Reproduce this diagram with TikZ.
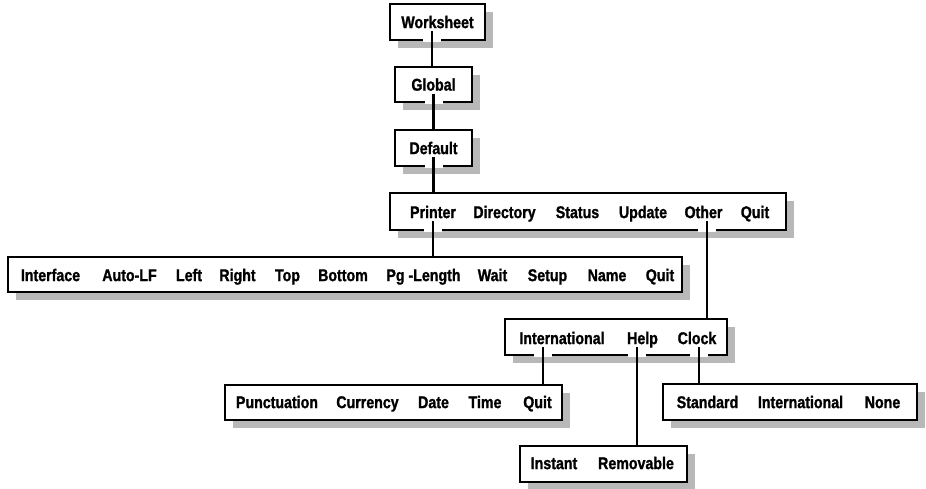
\documentclass[tikz,border=0pt]{standalone}
\usepackage{fontspec}
\setmainfont{Liberation Sans}[FakeStretch=0.835, BoldFeatures={FakeBold=1.2}]
\usepackage{tikz}
\usetikzlibrary{shadows}
\tikzset{
  font={\fontsize{17pt}{19pt}\selectfont\bfseries}}
\tikzset{
  menu/.style={draw, line width=1.9pt, fill=white, inner sep=0pt,
    drop shadow={shadow xshift=8pt, shadow yshift=-8pt, fill=black!28, opacity=1}},
  word/.style={inner sep=0pt, text height=12.2pt, text depth=0pt},
  link/.style={line width=2.2pt},
  gap/.style={white, line width=18pt}}
\newcommand{\menulink}[4]{%
  \draw[gap] ([xshift=#1, yshift=-3pt]#2.base) coordinate (from) -- (from |- #3.south) -- ++(0,1.2);
  \draw[link] (from) -- (from |- #4.north);}

\begin{document}
\begin{tikzpicture}[x=1pt, y=-1pt]
\useasboundingbox (0,0) rectangle (926,489);
\node[menu, word, minimum width=95pt, minimum height=36pt] (worksheet) at (437.5,22) {Worksheet};
\node[menu, word, minimum width=77pt, minimum height=35pt] (global) at (433.5,84.5) {Global};
\node[menu, word, minimum width=77pt, minimum height=36pt] (default) at (433.5,148) {Default};
\node[menu, minimum width=396pt, minimum height=37pt] (mainbar) at (588,211.5) {};
\node[menu, minimum width=674pt, minimum height=35pt] (printerbar) at (345,274.5) {};
\node[menu, minimum width=222pt, minimum height=36pt] (otherbar) at (616,337) {};
\node[menu, minimum width=337pt, minimum height=35pt] (intlbar) at (393.5,402.5) {};
\node[menu, minimum width=254pt, minimum height=36pt] (clockbar) at (790,402) {};
\node[menu, minimum width=167pt, minimum height=36pt] (helpbar) at (603.5,464) {};
\node[word] (printer) at (433,212) {Printer};
\node[word] (directory) at (504.5,212) {Directory};
\node[word] (status) at (577.5,212) {Status};
\node[word] (update) at (643,212) {Update};
\node[word] (other) at (703.5,212) {Other};
\node[word] (mainquit) at (755,212) {Quit};
\node[word] (interface) at (50.5,275) {Interface};
\node[word] (autolf) at (129.5,275) {Auto-LF};
\node[word] (lft) at (189,275) {Left};
\node[word] (rgt) at (237.5,275) {Right};
\node[word] (tp) at (287.5,275) {Top};
\node[word] (btm) at (343,275) {Bottom};
\node[word] (pglength) at (423.5,275) {Pg -Length};
\node[word] (wait) at (492.5,275) {Wait};
\node[word] (setup) at (547.5,275) {Setup};
\node[word] (name) at (607,275) {Name};
\node[word] (printerquit) at (660,275) {Quit};
\node[word] (intl) at (562,338) {International};
\node[word] (help) at (642.5,338) {Help};
\node[word] (clock) at (697,338) {Clock};
\node[word] (punct) at (277,402) {Punctuation};
\node[word] (currency) at (367.5,402) {Currency};
\node[word] (date) at (433.5,402) {Date};
\node[word] (time) at (485,402) {Time};
\node[word] (intlquit) at (537.5,402) {Quit};
\node[word] (standard) at (707.5,402) {Standard};
\node[word] (clockintl) at (800.5,402) {International};
\node[word] (none) at (882.5,402) {None};
\node[word] (instant) at (554,463) {Instant};
\node[word] (removable) at (636,463) {Removable};
\menulink{-5.5pt}{worksheet}{worksheet}{global}
\menulink{0pt}{global}{global}{default}
\menulink{0pt}{default}{default}{mainbar}
\menulink{0pt}{printer}{mainbar}{printerbar}
\menulink{3.5pt}{other}{mainbar}{otherbar}
\menulink{-19pt}{intl}{otherbar}{intlbar}
\menulink{-5.5pt}{help}{otherbar}{helpbar}
\menulink{2pt}{clock}{otherbar}{clockbar}
\end{tikzpicture}
\end{document}
